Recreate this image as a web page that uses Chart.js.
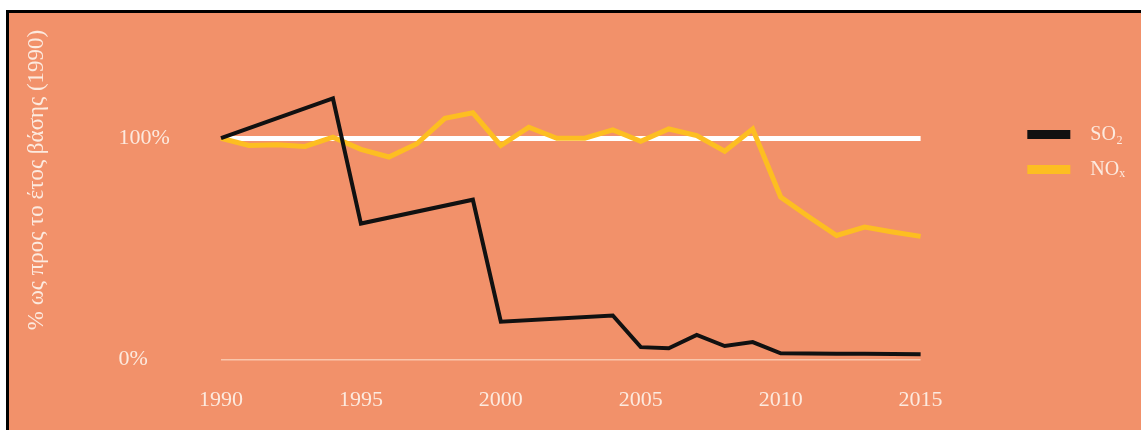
<!DOCTYPE html>
<html>
<head>
<meta charset="utf-8">
<script src="https://cdn.jsdelivr.net/npm/chart.js@4.4.0/dist/chart.umd.min.js"></script>
<style>
  html, body { margin: 0; padding: 0; background: #fff; overflow: hidden; }
  #frame {
    position: absolute; left: 6px; top: 10px;
    width: 1140px; height: 430px;
    border: 3px solid #000;
    background: #F2916A;
    overflow: hidden;
  }
  #frame canvas { position: absolute; left: 0; top: 0; }
</style>
</head>
<body>
<div id="frame">
  <canvas id="emissions" width="1132" height="430" style="width:1132px;height:430px"></canvas>
</div>
<script>
const years = ['1990', '1991', '1992', '1993', '1994', '1995', '1996', '1997', '1998', '1999',
  '2000', '2001', '2002', '2003', '2004', '2005', '2006', '2007', '2008', '2009',
  '2010', '2011', '2012', '2013', '2014', '2015'];

// % of 1990 level (gaps = no reported value, line is drawn straight across)
const so2 = [100, null, null, null, 118, 61.4, null, null, null, 72.2,
  17, null, null, null, 19.8, 5.5, 5, 11, 6, 7.8,
  2.7, 2.6, 2.5, 2.5, 2.4, 2.3];
const nox = [100, 96.7, 97, 96.3, 100.5, 95, 91.5, 97.5, 109, 111.5,
  96.7, 105, 100, 100, 103.8, 98.6, 104.2, 101.2, 94.1, 104.2,
  73.4, 64.5, 56, 59.8, 57.6, 55.6];

const yTicks = [0, 100];
const yTitle = '% ως προς το έτος βάσης (1990)';

const textColor = '#FCEADF';
const serif = '"Liberation Serif", "DejaVu Serif", serif';

// rotated axis title, drawn at the far left of the frame
const sideTitle = {
  id: 'sideTitle',
  afterDraw(chart) {
    const ctx = chart.ctx;
    ctx.save();
    ctx.translate(28, 167);
    ctx.rotate(-Math.PI / 2);
    ctx.font = '23px ' + serif;
    ctx.fillStyle = textColor;
    ctx.textAlign = 'center';
    ctx.textBaseline = 'middle';
    ctx.fillText(yTitle, 0, 0);
    ctx.restore();
  }
};

const ctx = document.getElementById('emissions').getContext('2d');
const emissionsChart = new Chart(ctx, {
  type: 'line',
  data: {
    labels: years,
    datasets: [{
      label: 'SO₂',
      data: so2,
      borderColor: '#111111',
      backgroundColor: '#111111',
      borderWidth: 4,
      spanGaps: true,
      clip: false
    }, {
      label: 'NOₓ',
      data: nox,
      borderColor: '#FDBE21',
      backgroundColor: '#FDBE21',
      borderWidth: 5,
      spanGaps: true,
      clip: false
    }]
  },
  options: {
    responsive: false,
    animation: false,
    layout: { padding: { left: 109.5, top: 96.5, right: 6, bottom: 1.3 } },
    elements: {
      point: { radius: 0, hoverRadius: 0 },
      line: { tension: 0, borderJoinStyle: 'miter', borderCapStyle: 'butt' }
    },
    scales: {
      x: {
        offset: false,
        grid: { display: false, drawTicks: false },
        border: { display: false },
        ticks: {
          autoSkip: false,
          maxRotation: 0,
          padding: 28,
          color: textColor,
          font: { family: serif, size: 22 },
          callback: (v, i) => (Number(years[i]) % 5 === 0 ? years[i] : '')
        }
      },
      y: {
        min: 0,
        max: 113,
        afterBuildTicks: s => { s.ticks = yTicks.map(v => ({ value: v })); },
        afterFit: s => { s.width = 102.5; },
        grid: {
          drawTicks: false,
          color: c => c.tick.value === 100 ? '#FFFFFF' : (c.tick.value === 0 ? '#F9C6AB' : 'rgba(0,0,0,0)'),
          lineWidth: c => c.tick.value === 100 ? 5 : 1.5
        },
        border: { display: false },
        ticks: {
          crossAlign: 'far',
          color: textColor,
          font: { family: serif, size: 22 },
          callback: v => v + '%'
        }
      },
      gap: {
        type: 'linear',
        axis: 'y',
        position: 'right',
        display: true,
        grid: { display: false },
        border: { display: false },
        ticks: { display: false },
        afterFit: s => { s.width = 91.7; }
      }
    },
    plugins: {
      legend: {
        position: 'right',
        align: 'start',
        labels: {
          boxWidth: 43,
          boxHeight: 9,
          padding: 15,
          color: textColor,
          font: { family: serif, size: 20 },
          generateLabels: chart => Chart.defaults.plugins.legend.labels.generateLabels(chart)
            .map(item => Object.assign(item, { lineWidth: 0, text: '  ' + item.text }))
        }
      },
      tooltip: { enabled: false }
    }
  },
  plugins: [sideTitle]
});
</script>
</body>
</html>
